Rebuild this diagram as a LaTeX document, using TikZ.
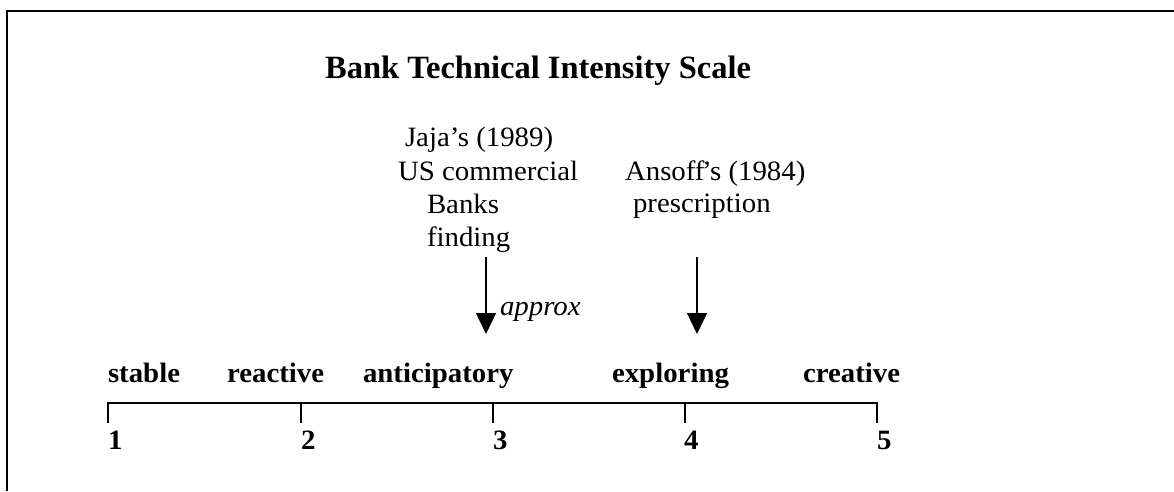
\documentclass[tikz,border=0pt]{standalone}
\usepackage{fontspec}
\setmainfont{Liberation Serif}[FakeStretch=1.03]
\newfontfamily\headfont{Liberation Serif}
\usetikzlibrary{arrows.meta}
\tikzset{
  txt/.style={inner sep=0pt, outer sep=0pt, anchor=base west, font=\fontsize{28}{32}\selectfont},
  lbl/.style={txt, font=\fontsize{28}{32}\selectfont\bfseries},
  headtxt/.style={inner sep=0pt, anchor=base west, font=\headfont\fontsize{32.5}{38}\selectfont\bfseries},
  frameline/.style={line width=2.8pt},
  axisline/.style={line width=2.6pt},
  tickline/.style={line width=1.7pt},
  pointer/.style={line width=1.4pt, -{Triangle[width=20pt,length=21pt]}}
}
\begin{document}
\begin{tikzpicture}[x=1pt,y=-1pt]
  \useasboundingbox (0,0) rectangle (1174,491);
  % open frame: top and left edges
  \draw[frameline] (7,491) -- (7,11) -- (1174,11);

  % heading
  \node[headtxt] (title) at (325,78) {Bank Technical Intensity Scale};

  % Jaja annotation
  \node[txt] (j1) at (405,146) {Jaja’s (1989)};
  \node[txt] (j2) at (398,180) {US commercial};
  \node[txt] (j3) at (427,213) {Banks};
  \node[txt] (j4) at (427,246) {finding};
  \coordinate (jtop) at (486,257);
  \coordinate (jtip) at (486,334);
  \draw[pointer] (jtop) -- (jtip);
  \node[txt, font=\fontsize{28}{32}\selectfont\itshape] (approx) at (500,315) {approx};

  % Ansoff annotation
  \node[txt] (a1) at (625,180) {Ansoff\kern-2.5pt’s (1984)};
  \node[txt] (a2) at (633,212) {prescription};
  \coordinate (atop) at (697,257);
  \coordinate (atip) at (697,334);
  \draw[pointer] (atop) -- (atip);

  % stage labels
  \node[lbl] (s1) at (108,382) {stable};
  \node[lbl] (s2) at (227,382) {reactive};
  \node[lbl] (s3) at (363,382) {anticipatory};
  \node[lbl] (s4) at (612,382) {exploring};
  \node[lbl] (s5) at (803,382) {creative};

  % scale axis with ticks
  \coordinate (t1) at (108,403);
  \coordinate (t2) at (301,403);
  \coordinate (t3) at (493,403);
  \coordinate (t4) at (685,403);
  \coordinate (t5) at (877,403);
  \draw[tickline] (t1) -- ++(0,20);
  \draw[tickline] (t2) -- ++(0,20);
  \draw[tickline] (t3) -- ++(0,20);
  \draw[tickline] (t4) -- ++(0,20);
  \draw[tickline] (t5) -- ++(0,20);
  \draw[axisline] ([xshift=-0.85pt]t1) -- ([xshift=0.85pt]t5);

  % scale values
  \node[lbl] (n1) at (108,449) {1};
  \node[lbl] (n2) at (301,449) {2};
  \node[lbl] (n3) at (493,449) {3};
  \node[lbl] (n4) at (684,449) {4};
  \node[lbl] (n5) at (877,449) {5};
\end{tikzpicture}
\end{document}
